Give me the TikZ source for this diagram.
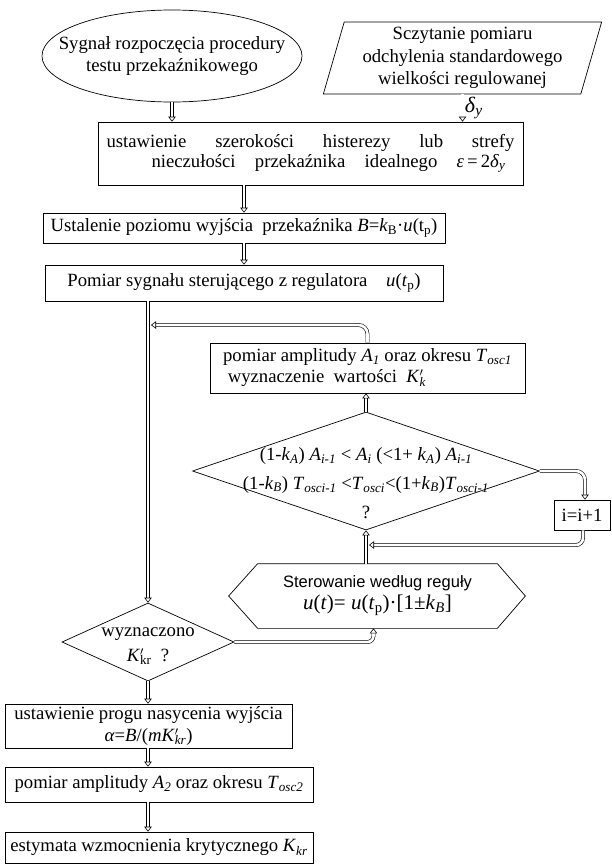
\documentclass[tikz,border=0pt]{standalone}
\usepackage{fontspec}
\setmainfont{Liberation Serif}
\setsansfont{Liberation Sans}
\usetikzlibrary{shapes.geometric,arrows.meta}

\newcommand{\idx}[1]{\textsubscript{#1}}
\newcommand{\ita}[1]{\textit{#1}}

\begin{document}
\begin{tikzpicture}[x=1pt, y=-1pt, line width=0.7pt,
    font=\fontsize{18.7}{22}\selectfont,
    blk/.style={draw, rectangle, inner sep=0pt, align=center},
    dec/.style={draw, diamond, inner sep=0pt},
    flow/.style={double, double distance=2.6pt, line width=0.6pt, -{Triangle[open, length=5pt, width=7.5pt]}}]
            \useasboundingbox (0,0) rectangle (611,865);

            % Start and input
            \node[draw, ellipse, minimum width=260pt, minimum height=92pt, inner sep=0pt] (start) at (172,56) {};
            \node[align=center] (starttxt) at (start) {Sygnał rozpoczęcia procedury\\testu przekaźnikowego};
            \node[draw, trapezium, trapezium left angle=74, trapezium right angle=106, trapezium stretches=true,
                minimum width=279pt, minimum height=72pt, inner sep=0pt, align=center,
                font=\fontsize{18.7}{22.5}\selectfont] (read) at (462.5,58)
                {Sczytanie pomiaru\\odchylenia standardowego\\wielkości regulowanej};

            % Setup blocks
            \node[blk, minimum width=425pt, minimum height=63pt, align=left] (set) at (310.5,153.5)
                {\makebox[408pt][s]{ustawienie szerokości histerezy lub strefy}\\[-2pt]
                 \hspace*{45pt}\makebox[354pt][s]{nieczułości przekaźnika idealnego \mbox{\ita{ε}\,=\,2\ita{δ}\idx{\ita{y}}}}};
            \node[blk, minimum width=402pt, minimum height=30pt] (level) at (244,228)
                {Ustalenie poziomu wyjścia\ \ przekaźnika \ita{B}=\ita{k}\idx{B}·\ita{u}(t\idx{p})};
            \node[blk, minimum width=398pt, minimum height=36pt] (meas) at (244,283)
                {Pomiar sygnału sterującego z regulatora\quad \ita{u}(\ita{t}\idx{p})};

            % Oscillation loop
            \node[blk, minimum width=315pt, minimum height=50pt, align=left, font=\fontsize{18.7}{21}\selectfont] (amp) at (367.5,368)
                {pomiar amplitudy \ita{A}\idx{\ita{1}} oraz okresu \ita{T}\idx{\ita{osc1}}\\
                 \ wyznaczenie\ \ wartości\ \ \ita{K}\rlap{$'$}\idx{\ita{k}}};
            \node[dec, minimum width=347pt, minimum height=118pt] (cond) at (366,471) {};
            \node[align=center, font=\fontsize{18.7}{29}\selectfont] (condtxt) at (366,483)
                {(1-\ita{k}\idx{\ita{A}}) \ita{A}\idx{\ita{i-1}} < \ita{A}\idx{\ita{i}} (<1+ \ita{k}\idx{\ita{A}}) \ita{A}\idx{\ita{i-1}}\\
                 (1-\ita{k}\idx{\ita{B}}) \ita{T}\idx{\ita{osci-1}} <\ita{T}\idx{\ita{osci}}<(1+\ita{k}\idx{\ita{B}})\ita{T}\idx{\ita{osci-1}}\\
                 ?};
            \node[blk, minimum width=56pt, minimum height=30pt] (inc) at (582,515) {i=i+1};
            \node[minimum width=239pt, minimum height=64pt, inner sep=0pt, align=center] (hex) at (377.5,596)
                {{\sffamily\fontsize{16.5}{22}\selectfont Sterowanie według reguły}\\
                 {\fontsize{21}{22}\selectfont\ita{u}(\ita{t})= \ita{u}(\ita{t}\idx{p})·[1±\ita{k}\idx{\ita{B}}]}};
            \draw (hex.north west) -- (hex.north east) -- ([xshift=28pt]hex.east) -- (hex.south east)
                -- (hex.south west) -- ([xshift=-29pt]hex.west) -- cycle;

            % Critical gain
            \node[dec, minimum width=172pt, minimum height=78pt] (kr) at (148,642) {};
            \node[align=center, font=\fontsize{18.7}{25}\selectfont] (krtxt) at (148,646)
                {wyznaczono\\\ita{K}\rlap{$'$}\idx{kr}\ \ ?};
            \node[blk, minimum width=287pt, minimum height=44pt, font=\fontsize{18.7}{22}\selectfont] (sat) at (148.5,726)
                {ustawienie progu nasycenia wyjścia\\\ita{α}=\ita{B}/(\ita{mK}\rlap{$'$}\idx{\ita{kr}})};
            \node[blk, minimum width=308pt, minimum height=35pt] (amp2) at (159,784.5)
                {pomiar amplitudy \ita{A}\idx{\ita{2}} oraz okresu \ita{T}\idx{\ita{osc2}}};
            \node[blk, minimum width=308pt, minimum height=31pt] (est) at (159,847.5)
                {estymata wzmocnienia krytycznego \ita{K}\idx{\ita{kr}}};

            % Connectors
            \draw[flow] (start.south) -- (start.south |- set.north);
            \draw[flow] (read.south) -- (read.south |- set.north)
                node[midway, right, inner sep=2pt] (dy) {\fontsize{22}{22}\selectfont\ita{δ}\idx{\ita{y}}};
            \draw[flow] (level.north |- set.south) -- (level.north);
            \draw[flow] (level.south) -- (meas.north);
            \draw[flow] (kr.north |- meas.south) -- (kr.north);
            \coordinate (fb) at (151,325);
            \draw[flow, rounded corners=9pt] (amp.north) |- (fb);
            \draw[flow] (cond.north) -- (cond.north |- amp.south);
            \draw[flow, rounded corners=9pt] (cond.east) -| ([xshift=3pt]inc.north);
            \coordinate (back) at (369,545);
            \draw[flow, rounded corners=7pt] ([xshift=1pt]inc.south) |- (back);
            \draw[flow] (cond.south |- hex.north) -- (cond.south);
            \draw[flow, rounded corners=6pt] (kr.east) -| ([xshift=-4pt]hex.south);
            \draw[flow] (kr.south) -- (kr.south |- sat.north);
            \draw[flow] (kr.south |- sat.south) -- (kr.south |- amp2.north);
            \draw[flow] (kr.south |- amp2.south) -- (kr.south |- est.north);
\end{tikzpicture}
\end{document}
